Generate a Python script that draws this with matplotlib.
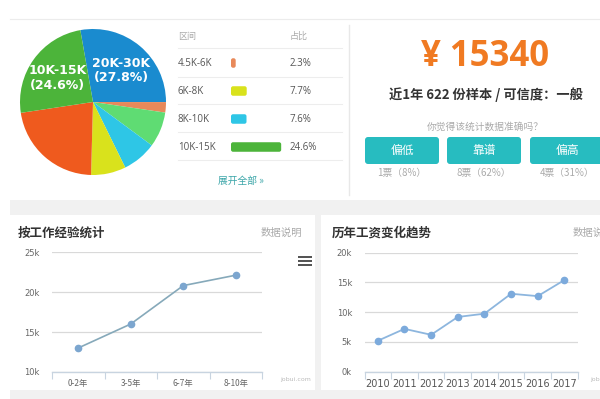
import matplotlib
matplotlib.use('Agg')
import matplotlib.pyplot as plt
from matplotlib.patches import Rectangle, FancyBboxPatch
import numpy as np

plt.rcParams['font.family'] = ['Noto Sans CJK SC', 'DejaVu Sans']

# ---------------- data ----------------
pie_labels = ['20K-30K', '4.5K-6K', '30K-50K', '8K-10K', '6K-8K', '15K-20K', '10K-15K']
pie_values = [27.8, 2.3, 7.8, 7.6, 7.7, 22.2, 24.6]
pie_colors = ['#1a8bcf', '#e8895a', '#5fdc73', '#2ec6e6', '#d9e21c', '#ef5a1e', '#4cb43a']
pie_shown = ['20K-30K', '10K-15K']

table_header = ['区间', '占比']
table_ranges = ['4.5K-6K', '6K-8K', '8K-10K', '10K-15K']
table_shares = [2.3, 7.7, 7.6, 24.6]
table_colors = ['#e8895a', '#d9e21c', '#2ec6e6', '#4cb43a']
expand_text = '展开全部 »'

avg_salary = 15340
sample_text = '近1年 622 份样本 / 可信度：一般'
question = '你觉得该统计数据准确吗？'
vote_buttons = ['偏低', '靠谱', '偏高']
vote_counts = [1, 8, 4]
vote_pcts = [8, 62, 31]

exp_title = '按工作经验统计'
exp_cats = ['0-2年', '3-5年', '6-7年', '8-10年']
exp_vals = [13.0, 16.0, 20.8, 22.1]
exp_yticks = [10, 15, 20, 25]

trend_title = '历年工资变化趋势'
years = ['2010', '2011', '2012', '2013', '2014', '2015', '2016', '2017']
year_vals = [5.2, 7.2, 6.2, 9.2, 9.75, 13.1, 12.7, 15.4]
trend_yticks = [0, 5, 10, 15, 20]

note_text = '数据说明'
credit = 'jobui.com'

W, H = 600, 399
fig = plt.figure(figsize=(6, 3.99), dpi=100)
fig.patch.set_facecolor('white')


def rect(x0, y0, x1, y1):
    return [x0 / W, 1 - y1 / H, (x1 - x0) / W, (y1 - y0) / H]


# ---------------- background / panels ----------------
bg = fig.add_axes([0, 0, 1, 1])
bg.set_xlim(0, W)
bg.set_ylim(H, 0)
bg.axis('off')
bg.add_patch(Rectangle((10, 199), 590, 200, color='#f1f1f1', lw=0))
bg.add_patch(Rectangle((10, 19), 590, 181, facecolor='white', edgecolor='none'))
bg.plot([10, 600], [19, 19], color='#ececec', lw=0.8)
bg.add_patch(Rectangle((10, 215), 305, 175, facecolor='white', edgecolor='none'))
bg.add_patch(Rectangle((321, 215), 279, 175, facecolor='white', edgecolor='none'))
bg.plot([349, 349], [25, 195], color='#e8e8e8', lw=1)

# ---------------- pie ----------------
ax_pie = fig.add_axes(rect(20, 29, 166, 175))
wedges, _ = ax_pie.pie(pie_values, colors=pie_colors, startangle=100,
                       counterclock=False, radius=1,
                       wedgeprops=dict(linewidth=0))
ax_pie.set_xlim(-1, 1)
ax_pie.set_ylim(-1, 1)
for w, lab, val in zip(wedges, pie_labels, pie_values):
    if lab in pie_shown:
        th = np.deg2rad((w.theta1 + w.theta2) / 2)
        ax_pie.text(0.6 * np.cos(th), 0.56 * np.sin(th), f'{lab}\n({val}%)',
                    ha='center', va='center', color='white', fontsize=9,
                    fontweight='bold', family='DejaVu Sans', linespacing=1.15)

# ---------------- table ----------------
for yy in [48, 77, 104, 132, 160]:
    bg.plot([178, 342], [yy, yy], color='#ededed', lw=0.8)
bg.text(178, 36, table_header[0], ha='left', va='center', fontsize=6.5, color='#aaaaaa')
bg.text(290, 36, table_header[1], ha='left', va='center', fontsize=6.5, color='#aaaaaa')
row_y = [63, 91, 119, 147]
for i, (r, s) in enumerate(zip(table_ranges, table_shares)):
    bg.text(178, row_y[i], r, ha='left', va='center', fontsize=7, color='#555555',
            family=['Open Sans', 'DejaVu Sans'])
    bg.text(290, row_y[i], f'{s}%', ha='left', va='center', fontsize=7, color='#555555',
            family=['Open Sans', 'DejaVu Sans'])
bg.text(241, 181, expand_text, ha='center', va='center', fontsize=7, color='#3aa5a8')

ax_tb = fig.add_axes(rect(231, 49, 282, 161))
ax_tb.set_xlim(0, 25)
ax_tb.set_ylim(3.5, -0.5)
ax_tb.axis('off')
bars = ax_tb.barh(range(len(table_shares)), table_shares, height=0.34, color=table_colors)
for b, c in zip(bars, table_colors):
    b.set_visible(False)
    ax_tb.add_patch(FancyBboxPatch((b.get_x(), b.get_y()), b.get_width(), b.get_height(),
                                   boxstyle='round,pad=0,rounding_size=1.0',
                                   mutation_aspect=0.073, facecolor=c, edgecolor='none'))

# ---------------- salary block ----------------
bg.text(485, 57, f'¥ {avg_salary}', ha='center', va='center', fontsize=25,
        fontweight='bold', color='#f07a22', family=['Open Sans', 'DejaVu Sans'])
bg.text(486, 95, sample_text, ha='center', va='center', fontsize=9.5,
        fontweight='bold', color='#333333')
bg.text(485, 127, question, ha='center', va='center', fontsize=7, color='#aaaaaa')
btn_x = [365, 447, 530]
for bx, lab, cnt, pct in zip(btn_x, vote_buttons, vote_counts, vote_pcts):
    bg.add_patch(FancyBboxPatch((bx, 137), 74, 27, boxstyle='round,pad=0,rounding_size=3',
                                facecolor='#27bcc0', edgecolor='none'))
    bg.text(bx + 37, 150.5, lab, ha='center', va='center', fontsize=8.5, color='white')
    bg.text(bx + 37, 173, f'{cnt}票（{pct}%）', ha='center', va='center',
            fontsize=7, color='#aaaaaa')

# ---------------- bottom titles ----------------
bg.text(18, 233, exp_title, ha='left', va='center', fontsize=9, fontweight='bold', color='#333333')
bg.text(302, 233, note_text, ha='right', va='center', fontsize=7.5, color='#aaaaaa')
bg.text(332, 233, trend_title, ha='left', va='center', fontsize=9, fontweight='bold', color='#333333')
bg.text(573, 233, note_text, ha='left', va='center', fontsize=7.5, color='#aaaaaa')
for yy in [257, 261, 265]:
    bg.add_patch(Rectangle((298, yy - 1), 14, 2, color='#555555', lw=0))
bg.text(296, 380, credit, ha='center', va='center', fontsize=4.5, color='#bbbbbb',
        family='DejaVu Sans')
bg.text(590, 380, credit, ha='left', va='center', fontsize=4.5, color='#bbbbbb',
        family='DejaVu Sans')


def style_line_axes(ax, n, yticks, xlabels, xsize, ypad, xcolor):
    ax.set_facecolor('none')
    ax.set_xlim(-0.5, n - 0.5)
    ax.set_ylim(yticks[0], yticks[-1])
    ax.set_yticks(yticks, [f'{t}k' for t in yticks])
    ax.set_xticks(range(n), xlabels)
    ax.set_xticks(np.arange(-0.5, n, 1.0), minor=True)
    for s in ['top', 'right', 'left']:
        ax.spines[s].set_visible(False)
    ax.spines['bottom'].set_color('#c8d4e0')
    ax.spines['bottom'].set_linewidth(1)
    ax.yaxis.grid(True, color='#d9d9d9', lw=0.9)
    ax.set_axisbelow(True)
    ax.tick_params(axis='y', length=0, pad=ypad, labelsize=6, labelcolor='#666666')
    ax.tick_params(axis='x', which='major', length=0, pad=5, labelsize=xsize,
                   labelcolor=xcolor)
    ax.tick_params(axis='x', which='minor', length=5, width=0.8, color='#c8d4e0',
                   direction='out')
    for lab in ax.get_yticklabels():
        lab.set_family('DejaVu Sans')


ax1 = fig.add_axes(rect(52, 252, 262, 372))
ax1.plot(range(len(exp_vals)), exp_vals, color='#86a9ba', lw=1.2, marker='o', ms=4.5,
         mfc='#7ca6cf', mec='#7ca6cf', zorder=3)
style_line_axes(ax1, len(exp_cats), exp_yticks, exp_cats, 6, 9, '#666666')

ax2 = fig.add_axes(rect(364.5, 252.7, 577.7, 371.7))
ax2.plot(range(len(year_vals)), year_vals, color='#8db6de', lw=1.3, marker='o', ms=4.5,
         mfc='#7caadc', mec='#7caadc', zorder=3)
style_line_axes(ax2, len(years), trend_yticks, years, 7, 9, '#555555')
for lab in ax2.get_xticklabels():
    lab.set_family('DejaVu Sans')

fig.savefig('out.png', dpi=100)
